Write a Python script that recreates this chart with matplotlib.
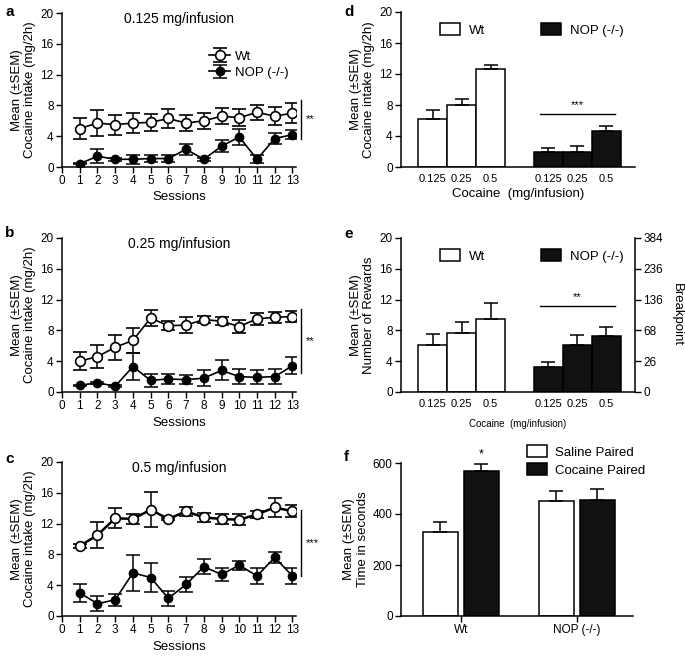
import numpy as np
import matplotlib
matplotlib.use("Agg")
import matplotlib.pyplot as plt

plt.rcParams['font.family'] = ['Liberation Sans', 'DejaVu Sans']
plt.rcParams['font.size'] = 8.5

# ---- data ----
sessions = np.arange(1, 14)

# panel a, 0.125 mg/infusion
a_wt = [5.0, 5.7, 5.5, 5.7, 5.8, 6.3, 5.7, 6.0, 6.6, 6.4, 7.1, 6.6, 7.0]
a_wt_err = [1.3, 1.7, 1.3, 1.3, 1.1, 1.2, 1.0, 1.0, 1.0, 1.1, 1.0, 1.2, 1.3]
a_nop = [0.43, 1.4, 1.0, 1.0, 1.1, 1.1, 2.3, 1.0, 2.7, 3.9, 1.0, 3.7, 4.2]
a_nop_err = [0.1, 0.9, 0.2, 0.6, 0.5, 0.5, 0.7, 0.2, 0.8, 1.1, 0.5, 0.7, 0.6]

# panel b, 0.25 mg/infusion
b_wt = [4.0, 4.6, 5.8, 6.7, 9.6, 8.6, 8.7, 9.4, 9.2, 8.5, 9.5, 9.7, 9.8]
b_wt_err = [1.2, 1.5, 1.6, 1.6, 1.0, 0.6, 1.0, 0.5, 0.5, 0.8, 0.8, 0.7, 0.7]
b_nop = [0.87, 1.2, 0.75, 3.3, 1.5, 1.7, 1.6, 1.8, 2.8, 2.0, 1.9, 2.0, 3.4]
b_nop_err = [0.1, 0.1, 0.1, 1.8, 0.8, 0.6, 0.6, 1.0, 1.3, 1.0, 0.9, 1.0, 1.1]

# panel c, 0.5 mg/infusion
c_wt = [9.1, 10.5, 12.7, 12.6, 13.8, 12.6, 13.6, 12.8, 12.6, 12.5, 13.2, 14.1, 13.6]
c_wt_err = [0.3, 1.7, 1.3, 0.7, 2.3, 0.1, 0.6, 0.6, 0.6, 0.7, 0.5, 1.2, 0.8]
c_nop = [3.0, 1.6, 2.1, 5.6, 5.0, 2.3, 4.1, 6.4, 5.4, 6.6, 5.2, 7.6, 5.2]
c_nop_err = [1.2, 1.0, 0.8, 2.3, 1.9, 1.0, 1.0, 1.0, 0.8, 0.6, 1.0, 0.7, 1.0]

doses = ['0.125', '0.25', '0.5']

# panel d, mean intake
d_wt = [6.2, 8.0, 12.6]
d_wt_err = [1.15, 0.75, 0.55]
d_nop = [2.0, 2.0, 4.6]
d_nop_err = [0.45, 0.65, 0.75]

# panel e, rewards
e_wt = [6.05, 7.6, 9.5]
e_wt_err = [1.5, 1.45, 2.0]
e_nop = [3.3, 6.15, 7.3]
e_nop_err = [0.6, 1.2, 1.2]
breakpoint_labels = ['0', '26', '68', '136', '236', '384']

# panel f, CPP
f_groups = ['Wt', 'NOP (-/-)']
f_saline = [329, 450]
f_saline_err = [38, 42]
f_cocaine = [569, 456]
f_cocaine_err = [27, 43]

W, H = 685, 658
fig = plt.figure(figsize=(W / 100, H / 100), dpi=100)


def rect(left, top, right, bottom):
    return [left / W, 1 - bottom / H, (right - left) / W, (bottom - top) / H]


def style(ax):
    ax.spines['top'].set_visible(False)
    ax.spines['right'].set_visible(False)
    ax.tick_params(direction='out', length=4, width=1, pad=2)
    for s in ax.spines.values():
        s.set_linewidth(1.1)


ylab = 'Mean (\u00b1SEM)\nCocaine intake (mg/2h)'
LS = 1.15


def line_panel(ax, wt, wt_err, nop, nop_err, title, sig_lo, sig_hi, stars, lw=1.2):
    ax.errorbar(sessions, wt, yerr=wt_err, fmt='-o', color='k', mfc='white',
                mec='k', ms=7, mew=1.2, lw=lw, capsize=5, elinewidth=1.1,
                capthick=1.1, label='Wt', zorder=3)
    ax.errorbar(sessions, nop, yerr=nop_err, fmt='-o', color='k', mfc='k',
                ms=6, lw=1.2, capsize=5, elinewidth=1.1, capthick=1.1,
                label='NOP (-/-)', zorder=3)
    ax.set_xlim(0, 13.2)
    ax.set_ylim(0, 20)
    ax.set_xticks(range(0, 14))
    ax.set_yticks(range(0, 21, 4))
    ax.set_xlabel('Sessions', fontsize=9.5, labelpad=3)
    ax.set_ylabel(ylab, fontsize=9.5, linespacing=LS)
    ax.yaxis.set_label_coords(-0.11, 0.5)
    ax.text(0.5, 0.962, title, transform=ax.transAxes, ha='center',
            va='center', fontsize=10)
    ax.plot([13.5, 13.5], [sig_lo, sig_hi], color='k', lw=1, clip_on=False)
    ax.text(13.75, (sig_lo + sig_hi) / 2, stars, ha='left', va='center',
            fontsize=8)
    style(ax)


ax_a = fig.add_axes(rect(62, 13, 296, 167))
line_panel(ax_a, a_wt, a_wt_err, a_nop, a_nop_err, '0.125 mg/infusion', 3.7, 8.7, '**')
ax_a.legend(loc='upper left', bbox_to_anchor=(0.6, 0.8), frameon=False,
            handlelength=1.6, handletextpad=0.4, borderpad=0, labelspacing=0.3,
            fontsize=9.5)

ax_b = fig.add_axes(rect(62, 238, 296, 392))
line_panel(ax_b, b_wt, b_wt_err, b_nop, b_nop_err, '0.25 mg/infusion', 2.5, 10.8, '**')

ax_c = fig.add_axes(rect(62, 462, 296, 616))
line_panel(ax_c, c_wt, c_wt_err, c_nop, c_nop_err, '0.5 mg/infusion', 5.2, 13.8, '***', lw=1.8)

# bar panels
bar_x_wt = np.array([1, 2, 3])
bar_x_nop = np.array([5, 6, 7])


def bar_panel(ax, wt, wt_err, nop, nop_err, sig_y, stars):
    ax.bar(bar_x_wt, wt, width=1, color='white', edgecolor='k', lw=1.1,
           yerr=[np.zeros(3), wt_err], capsize=5,
           error_kw=dict(elinewidth=1.1, capthick=1.1), label='Wt')
    ax.bar(bar_x_nop, nop, width=1, color='#111111', edgecolor='k', lw=1.1,
           yerr=[np.zeros(3), nop_err], capsize=5,
           error_kw=dict(elinewidth=1.1, capthick=1.1), label='NOP (-/-)')
    ax.set_xlim(-0.1, 8.0)
    ax.set_ylim(0, 20)
    ax.set_yticks(range(0, 21, 4))
    ax.set_xticks(list(bar_x_wt) + list(bar_x_nop))
    ax.set_xticklabels(doses + doses, fontsize=8)
    ax.plot([4.7, 7.3], [sig_y, sig_y], color='k', lw=1)
    ax.text(6, sig_y + 0.5, stars, ha='center', va='bottom', fontsize=8)
    ax.legend(loc='upper center', bbox_to_anchor=(0.56, 0.97), ncol=2,
              frameon=False, handlelength=1.5, handleheight=1.0,
              handletextpad=0.7, columnspacing=4.2, borderpad=0, fontsize=9.5)
    style(ax)
    ax.tick_params(axis='x', length=0, pad=5)


ax_d = fig.add_axes(rect(401, 12, 635, 167))
bar_panel(ax_d, d_wt, d_wt_err, d_nop, d_nop_err, 6.9, '***')
ax_d.set_xlabel('Cocaine  (mg/infusion)', fontsize=9.5, labelpad=3)
ax_d.set_ylabel(ylab, fontsize=9.5, linespacing=LS)
ax_d.yaxis.set_label_coords(-0.11, 0.5)

ax_e = fig.add_axes(rect(401, 238, 635, 392))
bar_panel(ax_e, e_wt, e_wt_err, e_nop, e_nop_err, 11.2, '**')
ax_e.set_xlabel('Cocaine  (mg/infusion)', fontsize=7, labelpad=7)
ax_e.set_ylabel('Mean (\u00b1SEM)\nNumber of Rewards', fontsize=9.5, linespacing=LS)
ax_e.yaxis.set_label_coords(-0.11, 0.5)
ax_e2 = ax_e.twinx()
ax_e2.set_ylim(0, 20)
ax_e2.set_yticks(range(0, 21, 4))
ax_e2.set_yticklabels(breakpoint_labels)
for k in ['top', 'left', 'bottom']:
    ax_e2.spines[k].set_visible(False)
ax_e2.spines['right'].set_linewidth(1.1)
ax_e2.tick_params(direction='out', length=4, width=1, pad=2)
ax_e2.set_ylabel('Breakpoint', rotation=270, fontsize=9.5, labelpad=14)

# panel f
f_pos = np.array([0.0, 3.3])
off = 0.585
ax_f = fig.add_axes(rect(401, 463, 633, 616))
ax_f.bar(f_pos - off, f_saline, width=1, color='white', edgecolor='k', lw=1.1,
         yerr=[np.zeros(2), f_saline_err], capsize=5,
         error_kw=dict(elinewidth=1.1, capthick=1.1), label='Saline Paired')
ax_f.bar(f_pos + off, f_cocaine, width=1, color='#111111', edgecolor='k', lw=1.1,
         yerr=[np.zeros(2), f_cocaine_err], capsize=5,
         error_kw=dict(elinewidth=1.1, capthick=1.1), label='Cocaine Paired')
ax_f.set_xlim(-1.71, 4.91)
ax_f.set_ylim(0, 600)
ax_f.set_yticks([0, 200, 400, 600])
ax_f.set_xticks(f_pos)
ax_f.set_xticklabels(f_groups, fontsize=8.5)
ax_f.set_ylabel('Mean (\u00b1SEM)\nTime in seconds', fontsize=9.5, linespacing=LS)
ax_f.yaxis.set_label_coords(-0.14, 0.5)
ax_f.text(f_pos[0] + off, f_cocaine[0] + f_cocaine_err[0] + 15, '*', ha='center',
          va='bottom', fontsize=9, clip_on=False)
ax_f.legend(loc='upper left', bbox_to_anchor=(0.515, 1.16), frameon=False,
            handlelength=1.5, handleheight=1.0, handletextpad=0.6,
            labelspacing=0.35, borderpad=0, fontsize=9.5)
style(ax_f)

# panel letters
for x, y, s in [(5, 12, 'a'), (5, 233, 'b'), (5, 459, 'c'),
                (344, 12, 'd'), (344, 234, 'e'), (344, 457, 'f')]:
    fig.text(x / W, 1 - y / H, s, fontsize=11, fontweight='bold', va='center')

fig.savefig('out.png', dpi=100)
